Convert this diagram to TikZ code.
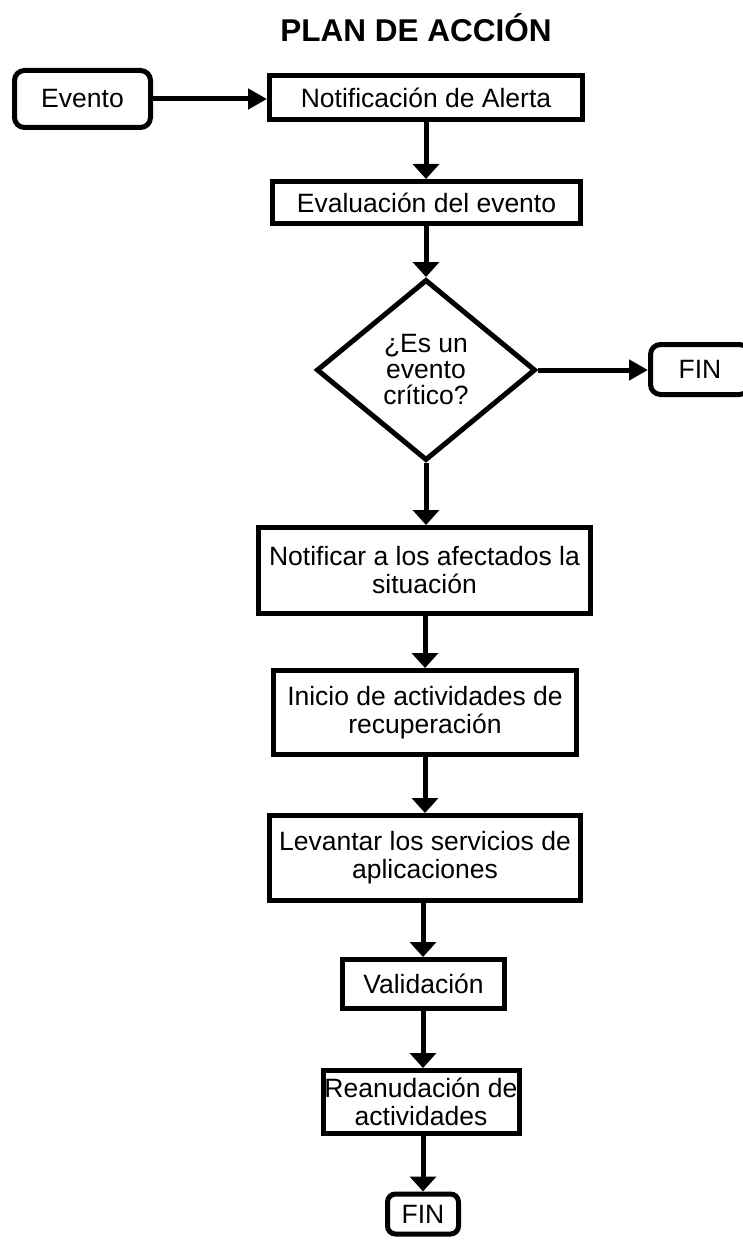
\documentclass[tikz,border=0pt]{standalone}
\usepackage{fontspec}
\setmainfont{Liberation Sans}
\usetikzlibrary{shapes.geometric,arrows.meta}
\begin{document}
\begin{tikzpicture}[x=1pt,y=-1pt,
  every node/.style={font=\fontsize{26.5}{28}\selectfont, text=black},
  procbox/.style={draw, line width=5pt, rectangle, fill=white, align=center, inner sep=2pt},
  endbox/.style={procbox, rounded corners=10pt},
  decision/.style={draw, line width=5pt, diamond, aspect=1.2, inner sep=0pt, fill=white, align=center,
     font=\fontsize{26.5}{26}\selectfont},
  flow/.style={line width=5pt, -{Triangle[length=15pt,width=26pt]}},
  flowh/.style={line width=5pt, -{Triangle[length=19pt,width=20pt]}}
]
\useasboundingbox (0,0) rectangle (743,1241);
\fill[white] (0,0) rectangle (743,1241);

\node[anchor=base, font=\fontsize{31.5}{31.5}\selectfont\bfseries] (title) at (416,42) {PLAN DE ACCI\'ON};

\node[endbox, minimum width=136pt, minimum height=57pt] (evento) at (82.5,99) {Evento};
\node[procbox, minimum width=313pt, minimum height=44pt] (notif) at (426,97.5) {Notificación de Alerta};
\node[procbox, minimum width=308pt, minimum height=42pt] (eval) at (426.5,202.5) {Evaluación del evento};
\node[decision, minimum width=219pt, minimum height=181pt] (dec) at (426,370) {¿Es un\\evento\\crítico?};
\node[endbox, minimum width=99pt, minimum height=50pt] (fin1) at (700,369.5) {FIN};
\node[procbox, minimum width=332pt, minimum height=86pt] (notificar) at (424.5,570.5) {Notificar a los afectados la\\situación};
\node[procbox, minimum width=303pt, minimum height=84pt] (inicio) at (425,712.5) {Inicio de actividades de\\recuperación};
\node[procbox, minimum width=311pt, minimum height=85pt] (levantar) at (425,858) {Levantar los servicios de\\aplicaciones};
\node[procbox, minimum width=162pt, minimum height=49pt] (valid) at (423.5,984) {Validación};
\node[procbox, minimum width=196pt, minimum height=63pt, inner sep=0pt] (reanud) at (421,1102) {Reanudación de\\actividades};
\node[endbox, minimum width=71pt, minimum height=40pt, rounded corners=8pt] (fin2) at (423,1214) {FIN};

\draw[flowh] (evento.east) -- (notif.west |- evento.east);
\draw[flow] (notif.south -| dec.north) -- (eval.north -| dec.north);
\draw[flow] (eval.south -| dec.north) -- (dec.north);
\draw[flowh] (dec.east) -- (fin1.west |- dec.east);
\draw[flow] (dec.south) -- (notificar.north -| dec.south);
\draw[flow] (notificar.south -| 425,0) -- (inicio.north -| 425,0);
\draw[flow] (inicio.south -| 425,0) -- (levantar.north -| 425,0);
\draw[flow] (levantar.south -| 423,0) -- (valid.north -| 423,0);
\draw[flow] (valid.south -| 423,0) -- (reanud.north -| 423,0);
\draw[flow] (reanud.south -| 423,0) -- (fin2.north -| 423,0);
\end{tikzpicture}
\end{document}
